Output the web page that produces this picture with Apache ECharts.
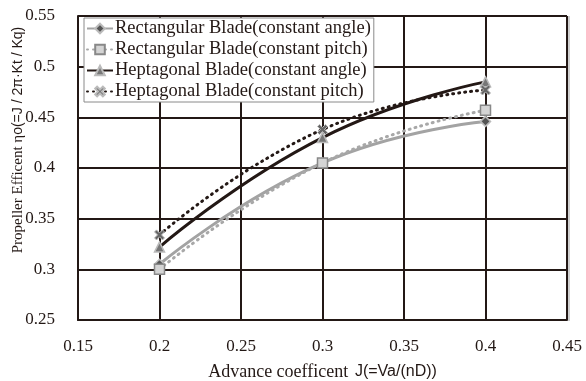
<!DOCTYPE html>
<html>
<head>
<meta charset="utf-8">
<script src="https://cdn.jsdelivr.net/npm/echarts@6/dist/echarts.min.js"></script>
<style>
html,body{margin:0;padding:0;background:#fff;}
#chart{width:586px;height:381px;}
</style>
</head>
<body>
<div id="chart"></div>
<script>
// ---- data ----
const jValues = [0.2, 0.3, 0.4];
const seriesNames = [
  'Rectangular Blade(constant angle)',
  'Rectangular Blade(constant pitch)',
  'Heptagonal Blade(constant angle)',
  'Heptagonal Blade(constant pitch)'
];
const rectAngle = [0.305, 0.405, 0.446];
const rectPitch = [0.300, 0.405, 0.457];
const heptAngle = [0.322, 0.430, 0.485];
const heptPitch = [0.334, 0.438, 0.477];
const xTicks = [0.15, 0.2, 0.25, 0.3, 0.35, 0.4, 0.45];
const yTicks = [0.25, 0.3, 0.35, 0.4, 0.45, 0.5, 0.55];

const SERIF = '"Liberation Serif", "DejaVu Serif", serif';
const SANS = '"Liberation Sans", Arial, sans-serif';
const GRID = '#231815';
const crossPath = 'path://M2,0 L5,3 L8,0 L10,2 L7,5 L10,8 L8,10 L5,7 L2,10 L0,8 L3,5 L0,2 Z';

function pairs(vals){ return jValues.map((j,i)=>[j, vals[i]]); }
const fmt = v => String(+Number(v).toFixed(2));

const chart = echarts.init(document.getElementById('chart'), null, {renderer:'canvas'});
chart.setOption({
  animation:false,
  backgroundColor:'#fff',
  grid:{left:78, right:19, top:16, bottom:61, containLabel:false, outerBoundsMode:'none'},
  xAxis:{
    type:'value', min:xTicks[0], max:xTicks[xTicks.length-1], interval:0.05,
    axisLine:{show:true, lineStyle:{color:GRID, width:2}},
    axisTick:{show:false},
    splitLine:{show:true, lineStyle:{color:GRID, width:2}},
    axisLabel:{formatter:fmt, color:'#231815', fontFamily:SERIF, fontSize:17, margin:18},
    name:'{a|Advance coefficent}  {b|J(=Va/(nD))}',
    nameLocation:'middle', nameGap:43,
    nameTextStyle:{rich:{
      a:{fontFamily:SERIF, fontSize:18, color:'#231815'},
      b:{fontFamily:SANS, fontSize:16, color:'#231815'}
    }}
  },
  yAxis:{
    type:'value', min:yTicks[0], max:yTicks[yTicks.length-1], interval:0.05,
    axisLine:{show:true, lineStyle:{color:GRID, width:2}},
    axisTick:{show:false},
    splitLine:{show:true, lineStyle:{color:GRID, width:2}},
    axisLabel:{formatter:fmt, color:'#231815', fontFamily:SERIF, fontSize:17, margin:23}
  },
  graphic:[{
    type:'text', x:18, y:140, rotation:Math.PI/2,
    style:{
      text:'{a|Propeller Efficent η}{b|o(=J / 2π·Kt / Kq)}',
      rich:{
        a:{fontFamily:SERIF, fontSize:15, fill:'#231815'},
        b:{fontFamily:SANS, fontSize:14, fill:'#231815'}
      },
      align:'center', verticalAlign:'middle'
    }
  },{
    type:'rect', shape:{x:568, y:16, width:2, height:305}, style:{fill:'#d0d0d0'}, silent:true
  }],
  legend:{
    orient:'vertical', left:84, top:18,
    backgroundColor:'#fff', borderColor:'#8a8a8a', borderWidth:1,
    padding:[1,3,1,2], itemGap:2, itemWidth:26, itemHeight:12,
    textStyle:{fontFamily:SERIF, fontSize:18.5, color:'#231815', lineHeight:19, padding:[0,0,0,-3]},
    data:seriesNames
  },
  series:[
    {name:seriesNames[0], type:'line', smooth:true, data:pairs(rectAngle),
     symbol:'diamond', symbolSize:10, z:3,
     lineStyle:{color:'#a3a3a3', width:3},
     itemStyle:{color:'#555', borderColor:'#bbb', borderWidth:1.5}},
    {name:seriesNames[1], type:'line', smooth:true, data:pairs(rectPitch),
     symbol:'rect', symbolSize:10, z:3,
     lineStyle:{color:'#a8a8a8', width:3, type:[1,5], cap:'round'},
     itemStyle:{color:'#d4d4d4', borderColor:'#888', borderWidth:1.5}},
    {name:seriesNames[2], type:'line', smooth:true, data:pairs(heptAngle),
     symbol:'triangle', symbolSize:10, z:4,
     lineStyle:{color:'#231815', width:3},
     itemStyle:{color:'#777', borderColor:'#bbb', borderWidth:1.5}},
    {name:seriesNames[3], type:'line', smooth:true, data:pairs(heptPitch),
     symbol:crossPath, symbolSize:10, z:4,
     lineStyle:{color:'#231815', width:3, type:[1,5], cap:'round'},
     itemStyle:{color:'#666', borderColor:'#bbb', borderWidth:1}}
  ]
});
</script>
</body>
</html>
